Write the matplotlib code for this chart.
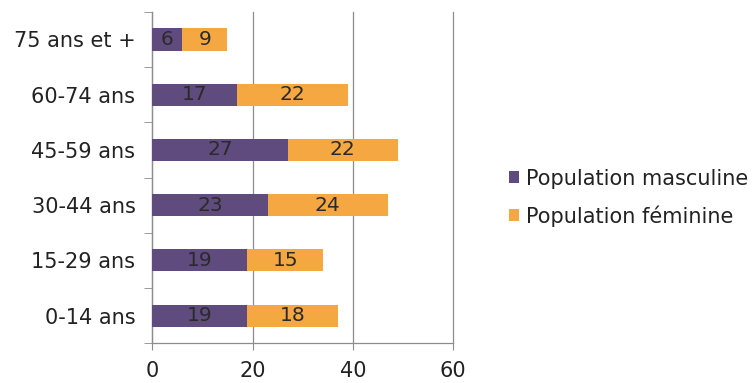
import matplotlib
matplotlib.use("Agg")
import matplotlib.pyplot as plt
import numpy as np

# age groups, bottom to top
ages = ["0-14 ans", "15-29 ans", "30-44 ans", "45-59 ans", "60-74 ans", "75 ans et +"]
male = [19, 19, 23, 27, 17, 6]
female = [18, 15, 24, 22, 22, 9]
xticks = [0, 20, 40, 60]

purple = "#5f4b7d"
orange = "#f5a841"
grid_col = "#8c8c8c"
txt_col = "#222222"

plt.rcParams["font.family"] = ["DejaVu Sans"]

fig = plt.figure(figsize=(7.53, 3.83), dpi=100)
ax = fig.add_axes([0.202, 0.104, 0.400, 0.865])

y = np.arange(len(ages))
b1 = ax.barh(y, male, height=0.4, color=purple, label="Population masculine", zorder=3)
b2 = ax.barh(y, female, left=male, height=0.4, color=orange, label="Population féminine", zorder=3)

for i in range(len(ages)):
    ax.text(male[i] / 2, y[i], str(male[i]), ha="center", va="center",
            fontsize=14.5, color="#2a2a2a", zorder=4)
    ax.text(male[i] + female[i] / 2, y[i], str(female[i]), ha="center", va="center",
            fontsize=14.5, color="#2a2a2a", zorder=4)

ax.set_xlim(0, 60)
ax.set_ylim(-0.5, len(ages) - 0.5)
ax.set_xticks(xticks)
ax.set_xticklabels([str(v) for v in xticks])
ax.set_yticks(y)
ax.set_yticklabels(ages)
ax.set_yticks(np.arange(-0.5, len(ages)), minor=True)
ax.tick_params(axis="y", which="major", length=0, pad=12, labelsize=15, labelcolor=txt_col)
ax.tick_params(axis="y", which="minor", length=6, color=grid_col, direction="out")
ax.tick_params(axis="x", length=5, color=grid_col, pad=8, labelsize=15, labelcolor=txt_col)

ax.grid(axis="x", color=grid_col, linewidth=0.9, zorder=0)
for gl in ax.get_xgridlines():
    gl.set_clip_on(False)
for s in ["top", "right"]:
    ax.spines[s].set_visible(False)
for s in ["left", "bottom"]:
    ax.spines[s].set_color(grid_col)
    ax.spines[s].set_linewidth(0.9)

leg = fig.legend(handles=[b1, b2], loc="center left", bbox_to_anchor=(0.651, 0.484),
                 frameon=False, fontsize=15, handlelength=0.5, handleheight=0.5,
                 handletextpad=0.3, labelspacing=0.8)
for t in leg.get_texts():
    t.set_color(txt_col)

fig.savefig("out.png", dpi=100, facecolor="white")
